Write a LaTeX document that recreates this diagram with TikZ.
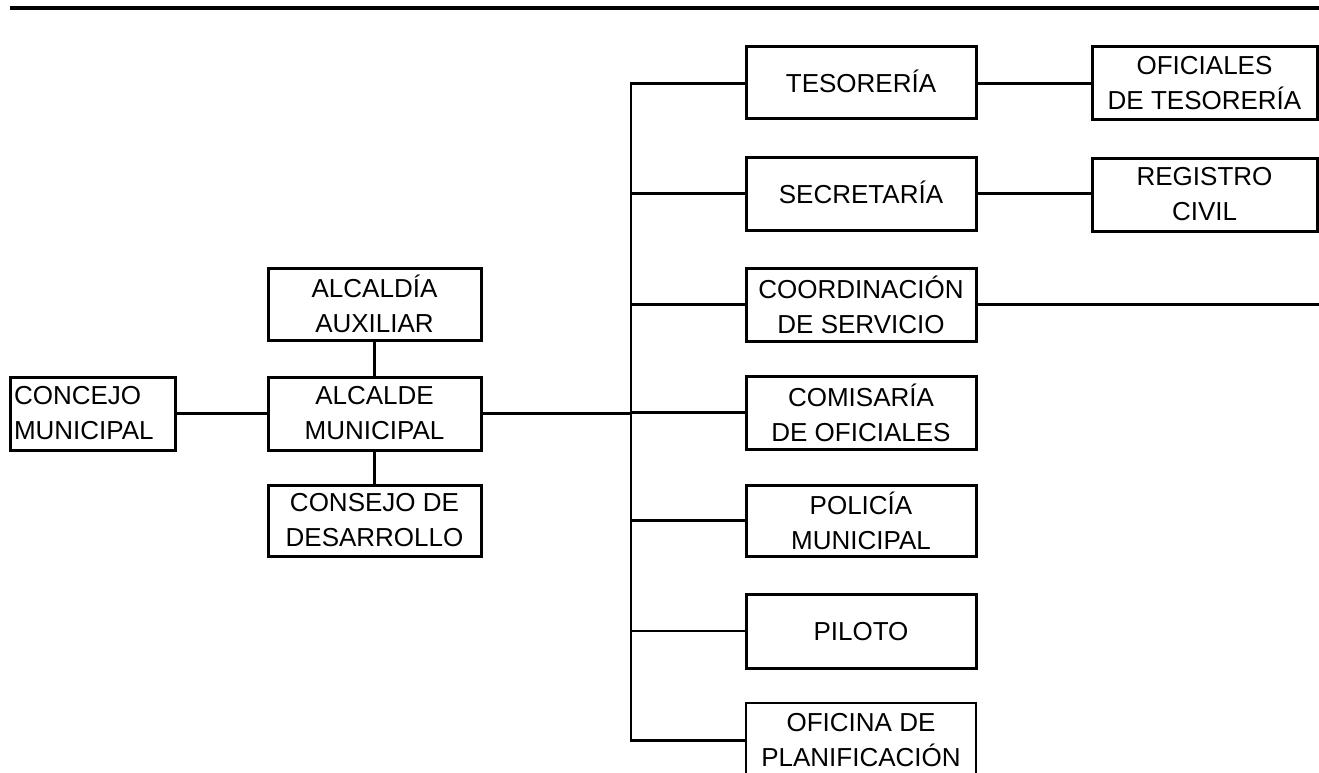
\documentclass[tikz,border=0pt]{standalone}
\usepackage{fontspec}
\setmainfont{Liberation Sans}
\begin{document}
\begin{tikzpicture}[x=1pt,y=-1pt,
  box/.style={draw,line width=3pt,rectangle,inner sep=0pt,align=center,
    font=\fontsize{26}{35}\selectfont},
  one/.style={text height=19pt,text depth=0pt},
  rbox/.style={box,minimum width=230pt,minimum height=72pt},
  fbox/.style={box,minimum width=225pt,minimum height=73pt},
  lbox/.style={box,minimum width=213pt,minimum height=72pt},
  conn/.style={line width=2.8pt},
  rule/.style={line width=4pt}]
\useasboundingbox (0,0) rectangle (1319,773);
\clip (0,0) rectangle (1319,773);
% top rule
\coordinate (r1) at (10,8.5);
\coordinate (r2) at (1319,8.5);
\draw[rule] (r1) -- (r2);
% left group
\node[box,minimum width=165pt,minimum height=73pt,align=left,text width=157pt,inner xsep=4pt] (conc) at (92.5,413.5) {CONCEJO\\MUNICIPAL};
\node[lbox] (aux) at (374.5,304) {ALCALDÍA\\AUXILIAR};
\node[lbox,minimum height=73pt] (alc) at (374.5,413.5) {ALCALDE\\MUNICIPAL};
\node[lbox,minimum height=71pt] (cons) at (374.5,520.5) {CONSEJO DE\\DESARROLLO};
% right column
\node[rbox,one] (tes) at (861,83) {TESORERÍA};
\node[rbox,one,minimum height=73pt] (sec) at (861,193.5) {SECRETARÍA};
\node[rbox,minimum height=73pt] (coo) at (861,304.5) {COORDINACIÓN\\DE SERVICIO};
\node[rbox,minimum height=73pt] (com) at (861,412.5) {COMISARÍA\\DE OFICIALES};
\node[rbox,minimum height=71pt] (pol) at (861,520.5) {POLICÍA\\MUNICIPAL};
\node[rbox,one,minimum height=74pt] (pil) at (861,631) {PILOTO};
\node[rbox,minimum height=75pt,line width=2.8pt] (ofi) at (861,740.5) {OFICINA DE\\PLANIFICACIÓN};
% far right
\node[fbox] (oft) at (1204.5,83.5) {OFICIALES\\DE TESORERÍA};
\node[fbox] (reg) at (1204.5,194.5) {REGISTRO\\CIVIL};
% connectors
\draw[conn] (conc.east) -- (alc.west);
\draw[conn] (aux.south) -- (alc.north);
\draw[conn] (alc.south) -- (cons.north);
\coordinate (t1) at (631,83.5);
\coordinate (t2) at (631,740.5);
\draw[conn] (tes.west |- t1) -- (t1) -- (t2) -- (ofi.west);
\draw[conn] (alc.east) -- (alc.east -| t1);
\foreach \n in {sec,coo,com,pol,pil} \draw[conn] (\n.west) -- (\n.west -| t1);
\draw[conn] (tes.east |- t1) -- (t1 -| oft.west);
\draw[conn] (sec.east) -- (sec.east -| reg.west);
\coordinate (cend) at (1319,304.5);
\draw[conn] (coo.east) -- (cend);
\end{tikzpicture}
\end{document}
